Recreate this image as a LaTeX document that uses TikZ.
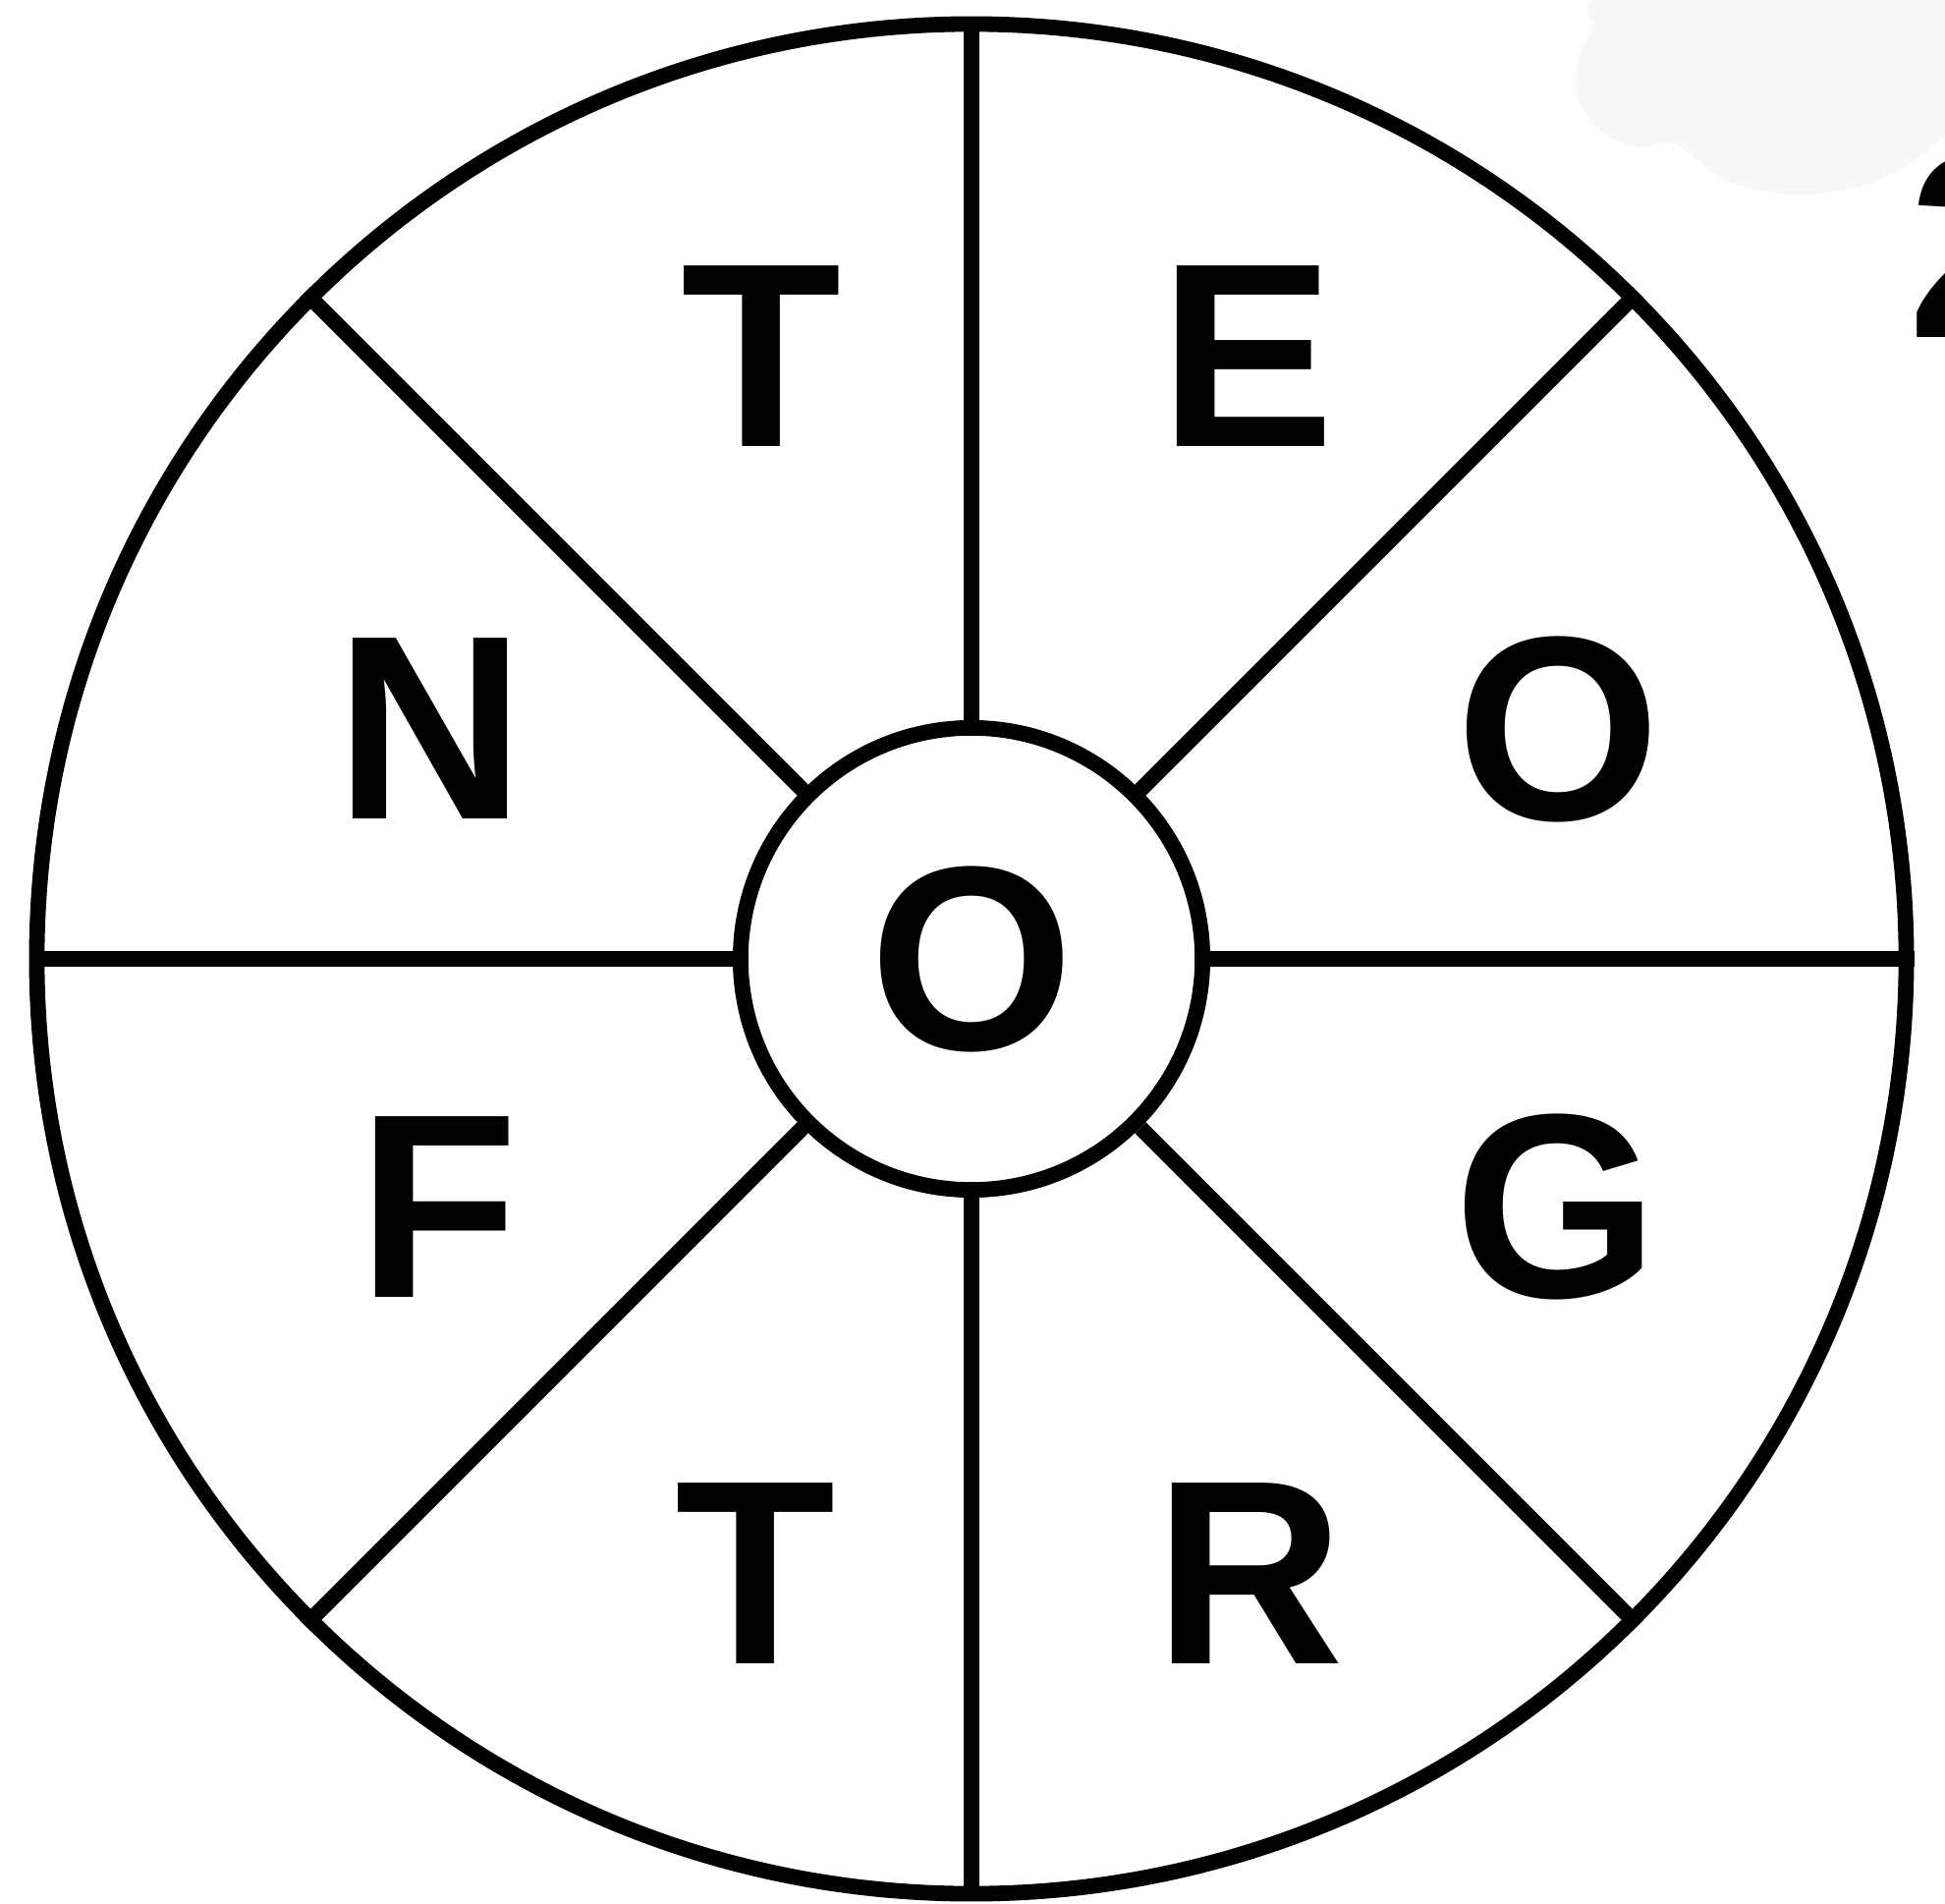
\documentclass[tikz,border=0pt]{standalone}
\usepackage{fontspec}
\setmainfont{Liberation Sans}
\usetikzlibrary{positioning, calc}
\newfontfamily\wheelfont{Liberation Sans}
\newcommand{\letterfont}{\wheelfont\bfseries\fontsize{76}{76}\selectfont}
\definecolor{haze}{RGB}{248,248,249}

\begin{document}
\begin{tikzpicture}[
  x=0.01cm, y=-0.01cm,
  ring/.style={draw, circle, line width=4.5pt, inner sep=0pt},
  spoke/.style={line width=4.5pt},
  letter/.style={font=\letterfont, inner sep=0pt}
]
  \useasboundingbox (0,0) rectangle (1980,1937);

  % faint patch in the top right corner
  \fill[haze] plot[smooth cycle, tension=0.6] coordinates {
    (1650,-5) (1620,30) (1603,85) (1625,130) (1670,150) (1705,147)
    (1760,185) (1840,198) (1930,175) (1995,110) (1995,-5)};

  % wheel
  \node[ring, minimum size=19.02cm] (rim) at (989,976) {};
  \node[ring, minimum size=4.70cm, fill=white, letter] (hub) at (989,976) {O};
  \foreach \a in {0,45,...,315}
    \draw[spoke] (hub.\a) -- (rim.\a);

  % letters in the sectors
  \node[letter] (t1) at (775,363) {T};
  \node[letter] (e1) at (1270,363) {E};
  \node[letter] (n1) at (438,742) {N};
  \node[letter] (o1) at (1586,742) {O};
  \node[letter] (f1) at (446,1229) {F};
  \node[letter] (g1) at (1584,1228) {G};
  \node[letter] (t2) at (769,1602) {T};
  \node[letter] (r1) at (1272,1602) {R};

  % cut-off number at the right edge
  \node[letter, anchor=west] (num) at (1942,250) {2};
\end{tikzpicture}
\end{document}
